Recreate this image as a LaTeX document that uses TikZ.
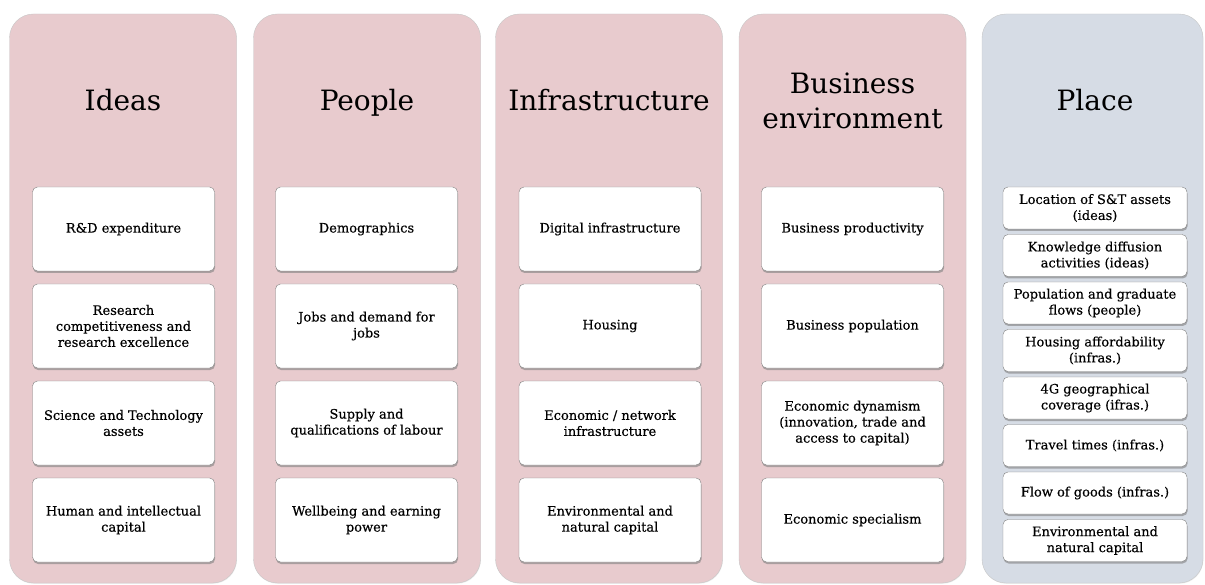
\documentclass[tikz,border=0pt]{standalone}
\usepackage{fontspec}
\setmainfont{DejaVu Serif}[BoldFont={DejaVu Serif}, BoldFeatures={FakeBold=0.4}]
\usetikzlibrary{shadows}
\definecolor{pillarpink}{HTML}{E8CBCE}
\definecolor{placeblue}{HTML}{D6DCE5}

\begin{document}
\begin{tikzpicture}[x=1pt, y=-1pt, text=black,
	column/.style={rounded corners=24pt, draw=black!22, fill=pillarpink, minimum width=227pt, minimum height=569pt,
		drop shadow={shadow xshift=0.4pt, shadow yshift=-0.8pt, opacity=0.15}},
	head/.style={font=\fontsize{28}{35}\selectfont, align=center},
	item/.style={rounded corners=5pt, draw=black!50, fill=white, minimum width=182pt, minimum height=84pt,
		align=center, font=\fontsize{13}{16}\selectfont\bfseries, node distance=97pt,
		drop shadow={shadow xshift=0.6pt, shadow yshift=-2pt, opacity=0.6}},
	place item/.style={item, minimum width=184pt, minimum height=42pt, inner sep=1pt, node distance=47.5pt}]
	
	\useasboundingbox (0,0) rectangle (1205,585);
	
	\node[column] (ideas) at (123,298.5) {};
	\node[column] (people) at (367,298.5) {};
	\node[column] (infra) at (609,298.5) {};
	\node[column] (business) at (852.5,298.5) {};
	\node[column, fill=placeblue, minimum width=221pt] (place) at (1092.5,298.5) {};
	
	\node[head, anchor=base] (ideash) at (123,111) {Ideas};
	\node[head, anchor=base] (peopleh) at (367,111) {People};
	\node[head, anchor=base] (infrah) at (609,111) {Infrastructure};
	\node[head] (businessh) at (852.5,101) {Business\\environment};
	\node[head, anchor=base] (placeh) at (1095,111) {Place};
	
	\node[item] (i1) at (123.5,229) {R\&D expenditure};
	\node[item] (i2) [below of=i1] {Research\\competitiveness and\\research excellence};
	\node[item] (i3) [below of=i2] {Science and Technology\\assets};
	\node[item] (i4) [below of=i3] {Human and intellectual\\capital};
	
	\node[item] (p1) at (366.5,229) {Demographics};
	\node[item] (p2) [below of=p1] {Jobs and demand for\\jobs};
	\node[item] (p3) [below of=p2] {Supply and\\qualifications of labour};
	\node[item] (p4) [below of=p3] {Wellbeing and earning\\power};
	
	\node[item] (f1) at (610,229) {Digital infrastructure};
	\node[item] (f2) [below of=f1] {Housing};
	\node[item] (f3) [below of=f2] {Economic / network\\infrastructure};
	\node[item] (f4) [below of=f3] {Environmental and\\natural capital};
	
	\node[item] (b1) at (852.5,229) {Business productivity};
	\node[item] (b2) [below of=b1] {Business population};
	\node[item] (b3) [below of=b2] {Economic dynamism\\(innovation, trade and\\access to capital)};
	\node[item] (b4) [below of=b3] {Economic specialism};
	
	\node[place item] (l1) at (1095,208) {Location of S\&T assets\\(ideas)};
	\node[place item] (l2) [below of=l1] {Knowledge diffusion\\activities (ideas)};
	\node[place item] (l3) [below of=l2] {Population and graduate\\flows (people)};
	\node[place item] (l4) [below of=l3] {Housing affordability\\(infras.)};
	\node[place item] (l5) [below of=l4] {4G geographical\\coverage (ifras.)};
	\node[place item] (l6) [below of=l5] {Travel times (infras.)};
	\node[place item] (l7) [below of=l6] {Flow of goods (infras.)};
	\node[place item] (l8) [below of=l7] {Environmental and\\natural capital};
	\end{tikzpicture}
\end{document}
